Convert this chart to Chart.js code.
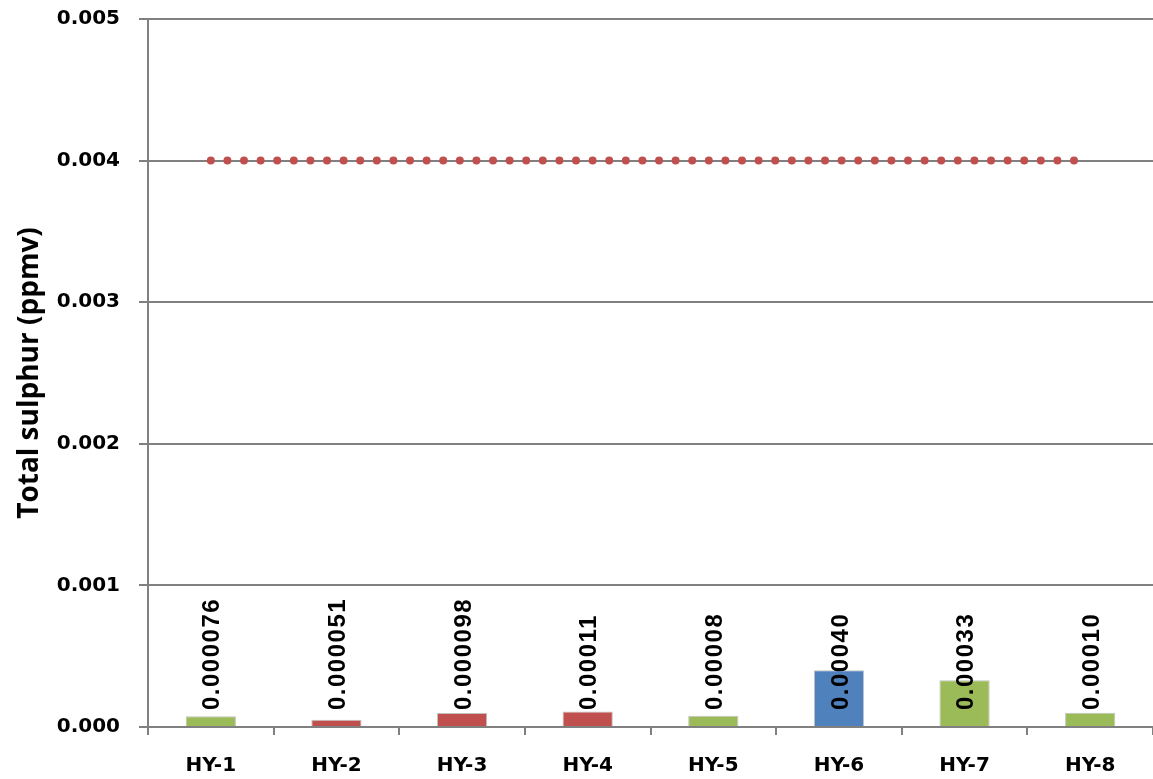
<!DOCTYPE html>
<html>
<head>
<meta charset="utf-8">
<title>Total sulphur</title>
<script src="https://cdn.jsdelivr.net/npm/chart.js@4.4.0/dist/chart.umd.min.js"></script>
<style>
  html, body { margin: 0; padding: 0; background: #fff; }
  #wrap { width: 1153px; height: 779px; }
</style>
</head>
<body>
<div id="wrap"><canvas id="chart" width="1153" height="779"></canvas></div>
<script>
// valores
var samples = ['HY-1', 'HY-2', 'HY-3', 'HY-4', 'HY-5', 'HY-6', 'HY-7', 'HY-8'];
var sulphur = [0.000076, 0.000051, 0.000098, 0.00011, 0.00008, 0.00040, 0.00033, 0.00010];
var sulphurText = ['0.000076', '0.000051', '0.000098', '0.00011', '0.00008', '0.00040', '0.00033', '0.00010'];
var barColors = ['#9bbb59', '#c0504d', '#c0504d', '#c0504d', '#9bbb59', '#4f81bd', '#9bbb59', '#9bbb59'];
var limit = [0.004, 0.004, 0.004, 0.004, 0.004, 0.004, 0.004, 0.004];
var yTicks = [0, 0.001, 0.002, 0.003, 0.004, 0.005];

var gridGray = '#808080';

// escreve os valores em pé sobre as barras
var valueLabels = {
  id: 'valueLabels',
  afterDatasetsDraw: function(chart){
    var ctx = chart.ctx;
    var meta = chart.getDatasetMeta(0);
    var base = chart.scales.y.getPixelForValue(0);
    ctx.save();
    ctx.fillStyle = '#000';
    ctx.font = 'bold 24px "Liberation Sans", Arial, sans-serif';
    ctx.letterSpacing = '1.5px';
    ctx.textAlign = 'left';
    ctx.textBaseline = 'middle';
    meta.data.forEach(function(bar, i){
      ctx.save();
      ctx.translate(bar.x + 2, base - 17);
      ctx.rotate(-Math.PI / 2);
      ctx.fillText(sulphurText[i], 0, 0);
      ctx.restore();
    });
    ctx.restore();
  }
};

new Chart(document.getElementById('chart'), {
  data: {
    labels: samples,
    datasets: [{
      type: 'bar',
      data: sulphur,
      backgroundColor: barColors,
      borderColor: 'rgba(120,120,120,0.45)',
      borderWidth: 1,
      barPercentage: 0.4,
      categoryPercentage: 1,
      order: 2
    }, {
      type: 'line',
      data: limit,
      borderColor: '#c0504d',
      borderWidth: 8,
      borderDash: [0, 16.6],
      borderCapStyle: 'round',
      pointRadius: 0,
      fill: false,
      order: 1
    }]
  },
  options: {
    responsive: false,
    animation: false,
    layout: { padding: { top: 19, right: 0, bottom: 0, left: 0 } },
    plugins: {
      legend: { display: false },
      tooltip: { enabled: false }
    },
    scales: {
      x: {
        offset: true,
        grid: {
          offset: true,
          drawOnChartArea: false,
          drawTicks: true,
          tickLength: 8,
          color: gridGray,
          lineWidth: 2
        },
        border: { display: true, color: gridGray, width: 2 },
        ticks: {
          color: '#000',
          padding: 19,
          font: { family: '"DejaVu Sans", sans-serif', size: 20, weight: 'bold' },
          maxRotation: 0
        },
        afterFit: function(scale){ scale.height = 52; }
      },
      y: {
        min: 0,
        max: 0.005,
        afterBuildTicks: function(scale){
          scale.ticks = yTicks.map(function(v){ return { value: v }; });
        },
        grid: {
          color: gridGray,
          lineWidth: 2,
          drawTicks: true,
          tickLength: 9
        },
        border: { display: true, color: gridGray, width: 2 },
        ticks: {
          color: '#000',
          padding: 19,
          font: { family: '"DejaVu Sans", sans-serif', size: 20, weight: 'bold' },
          callback: function(v){ return Number(v).toFixed(3); }
        },
        title: {
          display: true,
          text: 'Total sulphur (ppmv)',
          color: '#000',
          padding: { top: 13, bottom: 0 },
          font: { family: '"Open Sans", sans-serif', size: 28, weight: 'bold' }
        },
        afterFit: function(scale){
          scale.width = 148;
          scale.paddingTop = 0;
          scale.paddingBottom = 0;
        }
      }
    }
  },
  plugins: [valueLabels]
});
</script>
</body>
</html>
